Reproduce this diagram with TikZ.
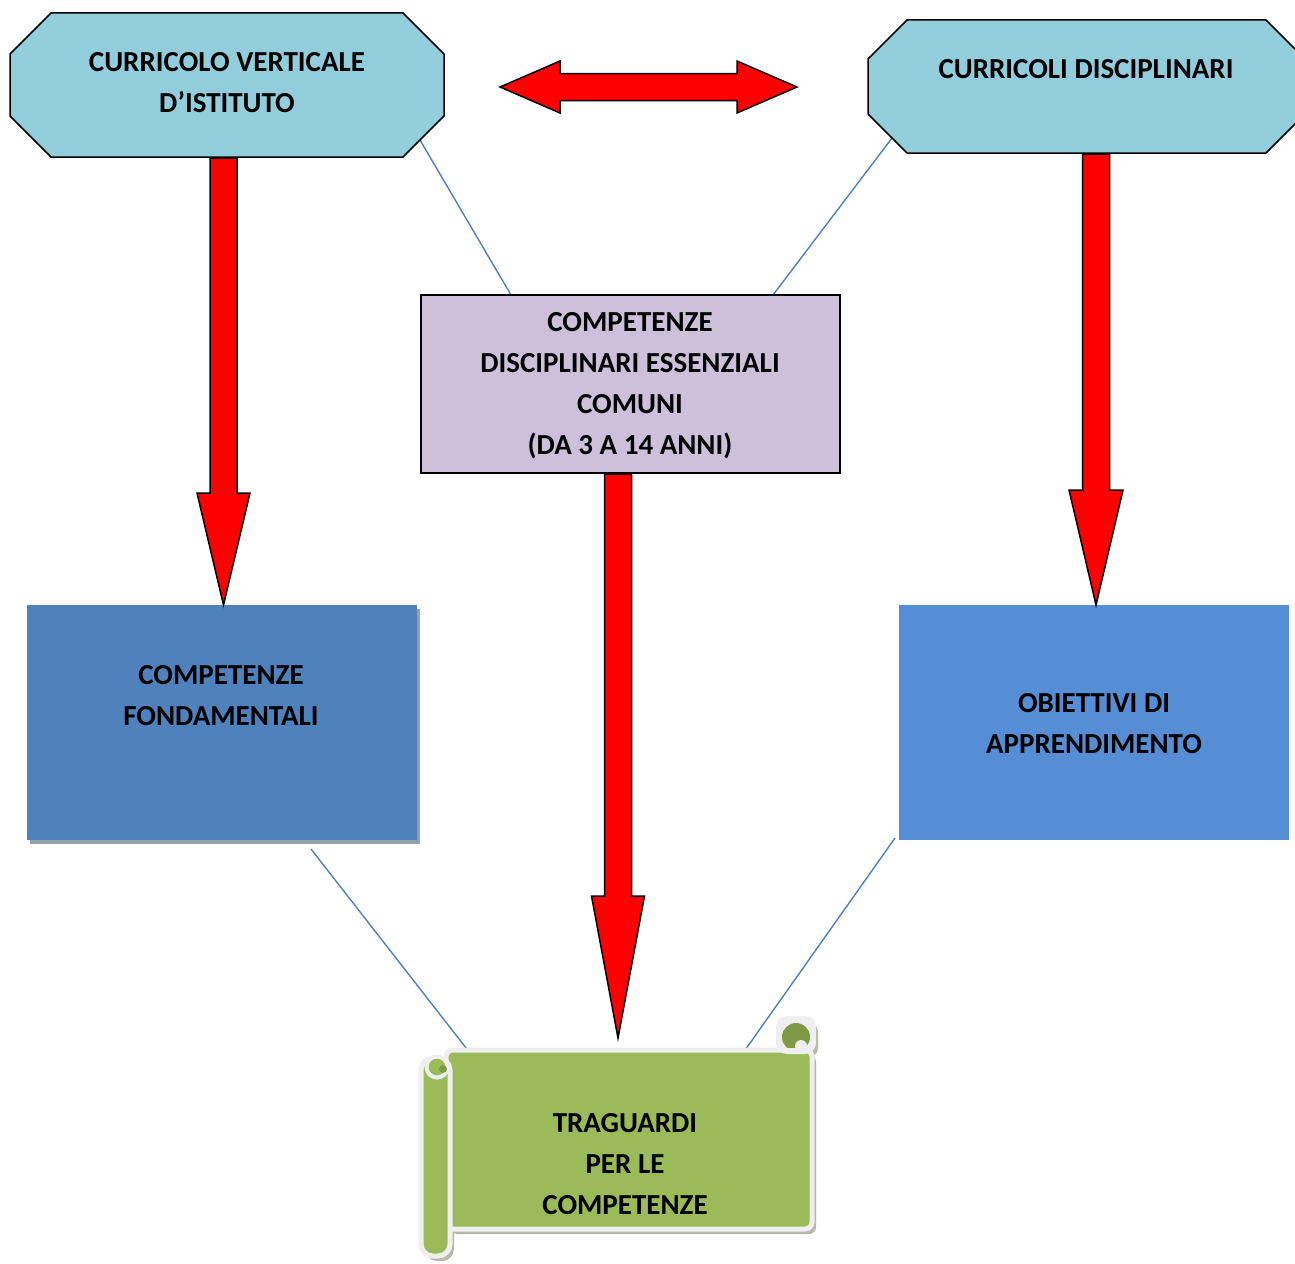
\documentclass[tikz,border=0pt]{standalone}
\usepackage{fontspec}
\setmainfont{Carlito}
\usetikzlibrary{calc,shadows}
\definecolor{octfill}{HTML}{92CDDC}
\definecolor{purp}{HTML}{CCC0DA}
\definecolor{bluea}{HTML}{4F81BD}
\definecolor{blueb}{HTML}{558ED5}
\definecolor{boxshadow}{HTML}{97A1AE}
\definecolor{sgreen}{HTML}{9BBB59}
\definecolor{sgreendark}{HTML}{7E9A45}
\definecolor{sborder}{HTML}{EFEFEF}
\definecolor{sshadow}{HTML}{B4B9AA}
\definecolor{connc}{HTML}{4F81BD}
\newcommand\octagonshape[2]{% #1 node name, #2 cut
  \filldraw[octline] ([xshift=#2]#1.north west) -- ([xshift=-#2]#1.north east) -- ([yshift=-#2]#1.north east) -- ([yshift=#2]#1.south east) -- ([xshift=-#2]#1.south east) -- ([xshift=#2]#1.south west) -- ([yshift=#2]#1.south west) -- ([yshift=-#2]#1.north west) -- cycle;}
\newcommand\blockdown[4]{% #1 start, #2 end, #3 head length, #4 head half width
  \filldraw[redarrow] let \p1=#1, \p2=#2 in
   ({\x2-13.5pt},{\y1}) -- ({\x2+13.5pt},{\y1}) -- ({\x2+13.5pt},{\y2+#3}) -- ({\x2+#4},{\y2+#3}) -- (\x2,\y2) -- ({\x2-#4},{\y2+#3}) -- ({\x2-13.5pt},{\y2+#3}) -- cycle;}
\newcommand\scrollparts[1]{%
  \path[#1, rounded corners=7pt] (446,1050) rectangle (812,1229);
  \path[#1, rounded corners=12pt] (421,1058) rectangle (450,1256);
}
\begin{document}
\begin{tikzpicture}[x=1pt,y=-1pt,
  lbl/.style={font=\fontsize{29}{41}\selectfont\bfseries, align=center, inner sep=0pt, text=black},
  place/.style={draw=none, inner sep=0pt, outer sep=0pt},
  octline/.style={fill=octfill, draw=black, line width=1.5pt, line join=miter},
  redarrow/.style={fill=red, draw=black, line width=1.5pt, line join=miter},
  conn/.style={draw=connc, line width=1.4pt},
  plainbox/.style={inner sep=0pt, outer sep=0pt}]
\useasboundingbox (0,0) rectangle (1295,1263);
\fill[white] (0,0) rectangle (1295,1263);
\clip (0,0) rectangle (1295,1263);

% placement nodes
\node[place, minimum width=434pt, minimum height=144pt] (o1) at (227,85) {};
\node[place, minimum width=437pt, minimum height=133pt] (o2) at (1086.5,86.5) {};
\node[place, minimum width=364pt, minimum height=180pt] (s) at (630,1140) {};

% thin connectors (drawn below shapes)
\draw[conn] ([xshift=-24pt,yshift=17pt]o1.south east) -- (511,295) coordinate (pa);
\draw[conn] ([xshift=24pt,yshift=15pt]o2.south west) -- (773,295) coordinate (pb);

% octagons
\octagonshape{o1}{41pt}
\octagonshape{o2}{39pt}

% purple box
\node[plainbox, draw=black, line width=1.5pt, fill=purp, minimum width=419pt, minimum height=178pt] (p) at (630.5,384) {};

% blue boxes
\node[plainbox, fill=bluea, minimum width=390pt, minimum height=235pt,
  drop shadow={shadow xshift=3pt, shadow yshift=-4pt, fill=boxshadow, opacity=1}] (b1) at (222,722.5) {};
\node[plainbox, fill=blueb, minimum width=390pt, minimum height=235pt] (b2) at (1094,722.5) {};

% lower connectors
\draw[conn] ([xshift=89pt,yshift=-9pt]b1.south) -- ([xshift=22pt,yshift=-3pt]s.north west);
\draw[conn] ([xshift=-4pt,yshift=2pt]b2.south west) -- ([xshift=-69pt,yshift=-3pt]s.north east);

% scroll
\begin{scope}[shift={(4,5)}]
  \scrollparts{fill=sshadow}
  \fill[sshadow, rounded corners=9pt] (778,1018) rectangle (814,1052);
\end{scope}
\scrollparts{fill=sgreen, draw=sborder, line width=5pt}
\filldraw[fill=sborder, draw=sborder, line width=4pt, rounded corners=9pt] (778,1018) rectangle (814,1052);
\begin{scope}
  \clip (776,1016) rectangle (816,1047);
  \fill[sgreendark] (796,1037) circle (14pt);
\end{scope}
\fill[sborder] (801,1046) circle (6pt);
\filldraw[fill=sgreen, draw=sborder, line width=4pt] (437,1067) circle (10.5pt);
\fill[sgreendark] (443,1069) circle (4pt);

% red block arrows
\coordinate (da1) at (500,87);
\coordinate (da2) at (797,87);
\filldraw[redarrow] let \p1=(da1), \p2=(da2) in
  (\x1,\y1) -- ({\x1+60pt},{\y1+26pt}) -- ({\x1+60pt},{\y1+13.5pt}) -- ({\x2-60pt},{\y1+13.5pt}) -- ({\x2-60pt},{\y1+26pt}) -- (\x2,\y2) -- ({\x2-60pt},{\y1-26pt}) -- ({\x2-60pt},{\y1-13.5pt}) -- ({\x1+60pt},{\y1-13.5pt}) -- ({\x1+60pt},{\y1-26pt}) -- cycle;
\blockdown{([yshift=-1pt]o1.south)}{([xshift=1.5pt]b1.north)}{112pt}{26.5pt}
\blockdown{([yshift=-1pt]o2.south)}{([xshift=2pt]b2.north)}{115pt}{27pt}
\blockdown{([yshift=-1pt]p.south)}{([xshift=-12pt,yshift=12pt]s.north)}{142pt}{26.5pt}

% texts
\node[lbl] (t1) at (227,82.5) {CURRICOLO VERTICALE\\D’ISTITUTO};
\node[lbl] (t2) at (1086,69) {CURRICOLI DISCIPLINARI};
\node[lbl] (t3) at (630,386) {COMPETENZE\\DISCIPLINARI ESSENZIALI\\COMUNI\\(DA 3 A 14 ANNI)};
\node[lbl] (t4) at (221,696) {COMPETENZE\\FONDAMENTALI};
\node[lbl] (t5) at (1094,723.5) {OBIETTIVI DI\\APPRENDIMENTO};
\node[lbl] (t6) at (625,1164) {TRAGUARDI\\PER LE\\COMPETENZE};
\end{tikzpicture}
\end{document}
